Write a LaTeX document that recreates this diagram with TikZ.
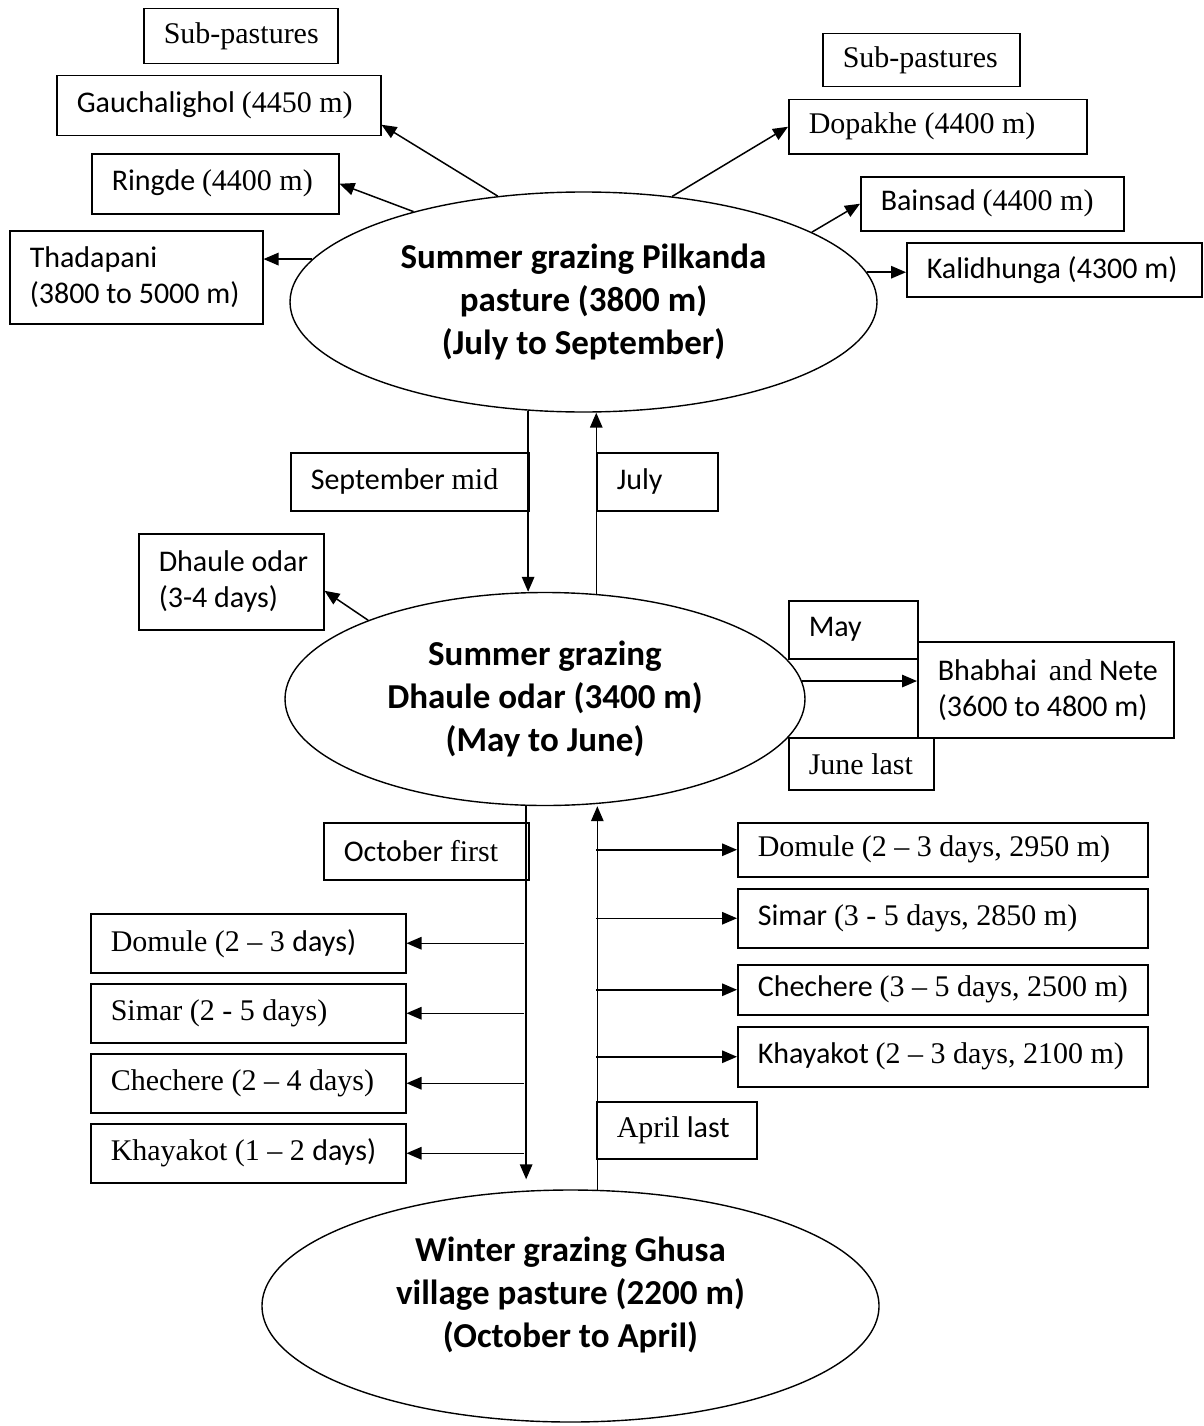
\documentclass[tikz,border=0pt]{standalone}
\usepackage{fontspec}
\setmainfont{Carlito}
\newfontfamily\tm{Liberation Serif}
\usetikzlibrary{shapes.geometric,arrows.meta}
\newcommand\bline[1]{\mbox{\spaceskip=0pt\xspaceskip=0pt #1}}
\begin{document}
\begin{tikzpicture}[x=1pt,y=-1pt,
 box/.style={draw, line width=1.5pt, rectangle, anchor=north west, inner xsep=20pt, inner ysep=0pt, font=\fontsize{30}{36}\selectfont, execute at begin node={\spaceskip=0pt\xspaceskip=0pt}},
 ell/.style={draw, ellipse, line width=1.4pt, inner sep=0pt, align=center, font=\fontsize{35}{43}\selectfont\bfseries},
 arr/.style={line width=1.5pt, -{Triangle[length=15pt,width=12.5pt]}}]
\useasboundingbox (0,0) rectangle (1203,1426);

% ellipses
\node[ell, minimum width=587, minimum height=220] (p) at (583.5,302) {Summer grazing Pilkanda\\pasture (3800 m)\\(July to September)};
\node[ell, minimum width=520, minimum height=213] (q) at (545,699) {Summer grazing\\Dhaule odar (3400 m)\\(May to June)};
\node[ell, minimum width=617, minimum height=232] (w) at (570.5,1306) {Winter grazing Ghusa\\village pasture (2200 m)\\(October to April)\rule[-27pt]{0pt}{0pt}};

% top-left boxes
\node[box, text width=154, minimum height=55] (sp1) at (143,8) {\bline{\tm Sub-pastures}};
\node[box, text width=284, minimum height=60] (g) at (56,75) {\bline{Gauchalighol {\tm (4450 m)}}};
\node[box, text width=207, minimum height=60] (r) at (91,153) {\bline{Ringde {\tm (4400 m)}}};
\node[box, text width=213, minimum height=93] (t) at (9,230) {\bline{Thadapani}\\\bline{(3800 to 5000 m)}};

% top-right boxes
\node[box, text width=157, minimum height=53] (sp2) at (822,33) {\bline{\tm Sub-pastures}};
\node[box, text width=258, minimum height=54] (d) at (788,99) {\bline{\tm Dopakhe (4400 m)}};
\node[box, text width=223, minimum height=54] (b) at (860,176) {\bline{Bainsad {\tm (4400 m)}}};
\node[box, text width=255, minimum height=54] (k) at (906,242) {\bline{Kalidhunga (4300 m)}};

% middle labels
\node[box, text width=198, minimum height=58] (sm) at (290,452) {\bline{September {\tm mid}}};
\node[box, text width=81, minimum height=58] (jl) at (596,452) {\bline{July}};
\node[box, text width=145, minimum height=96] (do) at (138,533) {\bline{Dhaule odar}\\\bline{(3-4 days)}};
\node[box, text width=89, minimum height=58] (my) at (788,600) {\bline{May}};
\node[box, text width=216, minimum height=96] (bh) at (917,641) {\bline{Bhabhai\hspace{12pt}{\tm and} Nete}\\\bline{(3600 to 4800 m)}};
\node[box, text width=105, minimum height=52] (jn) at (788,737) {\bline{\tm June last}};
\node[box, text width=165, minimum height=57] (of) at (323,822) {\bline{October {\tm first}}};
\node[box, text width=120, minimum height=57] (al) at (596,1101) {\bline{{\tm April} last}};

% lower-left boxes
\node[box, text width=275, minimum height=59] (dl1) at (90,913) {\bline{{\tm Domule (2 – 3 }days)}};
\node[box, text width=275, minimum height=59] (dl2) at (90,983) {\bline{\tm Simar (2 - 5 days)}};
\node[box, text width=275, minimum height=59] (dl3) at (90,1053) {\bline{\tm Chechere (2 – 4 days)}};
\node[box, text width=275, minimum height=59] (dl4) at (90,1123) {\bline{{\tm Khayakot (1 – 2 }days)}};

% lower-right boxes
\node[box, text width=370, minimum height=54] (dr1) at (737,822) {\bline{\tm Domule (2 – 3 days, 2950 m)}};
\node[box, text width=370, minimum height=59] (dr2) at (737,888) {\bline{Simar {\tm (3 - 5 days, 2850 m)}}};
\node[box, text width=370, minimum height=50] (dr3) at (737,964) {\bline{Chechere {\tm (3 – 5 days, 2500 m)}}};
\node[box, text width=370, minimum height=60] (dr4) at (737,1026) {\bline{Khayakot {\tm (2 – 3 days, 2100 m)}}};

\coordinate (xLL) at (524,0);
\coordinate (xR) at (596,0);

% arrows from top ellipse
\draw[arr] (p.129.7) -- ([yshift=-19pt]g.east);
\draw[arr] (p.152.8) -- (r.east);
\draw[arr] (p.171.1) -- (p.171.1 -| t.east);
\draw[arr] (p.50.3) -- (d.west);
\draw[arr] (p.17.1) -- (b.west);
\draw[arr] (p.6.85) -- (p.6.85 -| k.west);

% vertical arrows
\draw[arr] (p.243) -- (p.243 |- q.north);
\draw[arr] (q.64.1) -- (q.64.1 |- p.south);
\draw[arr, shorten >=10pt] (q.260.96) -- (q.260.96 |- w.north);
\draw[arr] (w.77.6) -- (w.77.6 |- q.south);

% middle ellipse arrows
\draw[arr] (q.156.3) -- ([yshift=-9pt]do.east);
\draw[arr] (q.4.7) -- (q.4.7 -| bh.west);

% side arrows
\foreach \n in {dl1,dl2,dl3,dl4} \draw[arr] (\n.east -| xLL) -- (\n.east);
\foreach \n in {dr1,dr2,dr3,dr4} \draw[arr] (\n.west -| xR) -- (\n.west);
\end{tikzpicture}
\end{document}
